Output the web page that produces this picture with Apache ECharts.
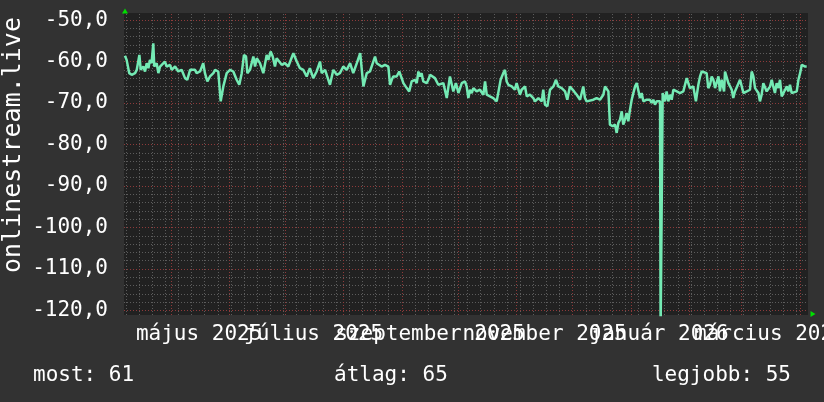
<!DOCTYPE html>
<html><head><meta charset="utf-8">
<script src="https://cdn.jsdelivr.net/npm/echarts@6/dist/echarts.min.js"></script>
<style>html,body{margin:0;padding:0;background:#323232}#c{width:824px;height:402px}</style>
</head><body><div id="c"></div>
<script>
const seriesName = 'onlinestream.live';
const startDay = '2025-04-06';
const spanDays = 364.3;
const firstMonday = '2025-04-07';

// day offsets from startDay, and signal level (dBm)
const dayOffset = [
  0.5,1.4,2.8,4.1,5.9,6.8,8.2,8.9,10.3,11.2,12.1,13.0,13.8,14.7,15.6,16.1,17.4,18.3,19.2,20.1,
  21.8,22.7,24.5,25.4,27.2,28.9,30.7,32.5,33.7,35.2,36.1,37.8,38.7,40.5,42.2,43.1,44.4,45.8,47.6,48.5,
  50.2,51.5,52.9,54.7,56.5,58.2,60.0,61.4,62.7,63.9,65.0,65.7,67.1,68.9,69.8,70.7,72.4,74.2,76.0,76.9,
  78.1,79.2,80.4,81.3,84.0,85.7,87.5,90.2,92.0,93.7,95.5,97.3,99.0,100.8,102.6,104.4,105.3,107.1,109.7,111.5,
  113.3,115.0,116.8,118.6,120.4,122.1,124.0,125.8,127.5,129.3,
  131.0,132.8,133.7,134.6,135.4,137.2,139.0,140.8,141.7,142.6,
  143.4,145.2,146.6,147.9,148.8,150.6,151.9,153.2,155.0,155.9,
  156.8,157.6,158.5,159.4,161.2,162.1,163.0,163.9,165.6,167.4,
  168.3,170.1,171.9,173.6,174.5,175.4,176.8,178.1,179.9,181.6,
  182.5,183.4,184.3,185.2,186.1,187.8,189.6,191.4,192.3,193.2,
  194.9,196.7,198.5,199.4,200.6,202.0,202.9,203.8,204.7,206.5,
  208.2,209.1,210.0,210.9,211.8,212.7,213.6,214.5,216.2,218.0,
  218.9,220.7,222.5,223.3,224.2,225.5,226.9,228.7,230.1,231.3,
  233.1,234.9,236.1,237.5,238.4,239.7,241.1,242.9,244.6,245.5,
  246.4,250.0,251.7,252.6,253.5,254.4,255.3,256.2,258.0,258.8,
  260.3,261.5,262.4,263.3,264.2,
  265.1,265.9,266.8,267.7,268.6,269.5,270.4,271.3,272.2,273.1,
  273.9,274.8,275.7,276.6,277.5,278.4,279.3,280.1,281.0,281.9,
  282.8,283.7,284.6,285.5,285.8,286.4,286.9,288.1,289.0,289.9,
  290.8,291.7,292.6,293.5,294.4,296.1,297.0,297.9,299.7,300.6,
  301.4,303.2,304.6,305.9,306.8,307.7,308.5,310.3,311.2,312.1,
  313.0,313.9,314.8,315.7,316.6,317.4,318.3,319.6,320.1,321.0,
  321.9,322.8,323.7,324.5,325.4,326.3,328.1,329.0,329.9,331.7,
  333.4,334.3,335.2,336.1,337.9,338.7,339.6,340.5,341.4,342.3,
  344.1,345.0,345.8,346.7,347.6,348.5,349.4,350.3,351.2,352.1,
  353.0,353.8,354.7,355.6,356.5,358.3,359.2,360.1,361.0,361.9,
  362.8,363.6
];
const signal = [
  -58.6,-59.6,-62.8,-63.2,-62.8,-62.0,-58.4,-62.0,-61.2,-62.4,-60.4,-61.6,-59.6,-60.4,-55.6,-61.2,-60.4,-62.8,-61.2,-61.6,
  -60.0,-61.2,-60.8,-62.0,-61.2,-62.4,-62.0,-64.0,-64.4,-62.0,-62.4,-62.0,-62.8,-62.4,-60.4,-62.8,-64.8,-63.6,-62.8,-62.0,
  -62.4,-69.6,-66.0,-62.8,-62.0,-62.4,-64.4,-65.6,-62.8,-58.4,-58.8,-62.8,-62.0,-58.8,-61.2,-59.2,-60.4,-62.8,-58.4,-59.6,
  -57.6,-58.8,-61.2,-59.2,-60.8,-60.4,-61.2,-58.0,-60.0,-61.6,-62.0,-63.6,-61.6,-64.0,-62.4,-60.0,-62.8,-62.0,-65.6,-62.0,
  -63.2,-62.8,-61.2,-62.0,-60.4,-62.8,-60.4,-58.0,-66.0,-62.8,
  -62.4,-60.0,-58.8,-60.4,-60.8,-61.2,-60.8,-61.2,-65.6,-64.4,
  -63.6,-63.6,-62.4,-64.0,-65.2,-66.4,-67.2,-64.8,-64.4,-65.2,
  -62.4,-63.6,-62.8,-64.8,-65.2,-64.4,-63.2,-62.8,-64.0,-65.6,
  -66.0,-65.2,-68.8,-63.6,-63.6,-67.2,-65.2,-67.6,-65.2,-64.8,
  -66.0,-68.8,-66.8,-67.6,-66.4,-67.2,-66.8,-68.0,-64.8,-68.0,
  -68.4,-68.8,-69.6,-69.2,-64.4,-62.8,-62.0,-64.8,-65.6,-66.0,
  -66.8,-65.2,-65.6,-68.0,-66.8,-67.2,-66.0,-68.4,-68.0,-68.8,
  -69.6,-68.8,-69.6,-66.8,-70.4,-70.8,-66.8,-66.0,-64.4,-66.0,
  -66.4,-67.2,-69.2,-66.0,-65.6,-67.2,-68.0,-69.2,-66.0,-68.8,
  -69.6,-69.2,-68.8,-68.4,-69.2,-69.6,-68.0,-66.0,-67.2,-75.2,
  -75.6,-75.2,-77.2,-74.8,-74.0,
  -72.0,-75.2,-74.0,-72.4,-74.4,-71.6,-69.2,-69.6,-66.0,-65.2,
  -65.6,-68.8,-67.6,-69.6,-69.2,-69.2,-69.6,-69.2,-70.0,-69.2,
  -70.4,-69.6,-69.2,-69.6,-125,-125,-67.6,-69.6,-67.2,-69.6,
  -68.0,-69.2,-66.8,-66.4,-67.2,-67.6,-68.0,-67.2,-64.0,-64.4,
  -66.4,-66.0,-69.6,-65.6,-63.6,-62.4,-62.8,-62.8,-66.4,-65.6,
  -63.6,-64.4,-66.4,-66.8,-63.6,-67.2,-64.4,-67.2,-62.4,-62.0,
  -65.2,-66.0,-66.8,-68.8,-67.2,-66.8,-64.4,-64.8,-67.6,-67.2,
  -66.8,-62.4,-63.6,-66.4,-67.6,-69.6,-68.0,-65.2,-64.8,-67.2,
  -66.0,-64.4,-66.0,-67.6,-65.2,-66.4,-64.4,-68.4,-68.8,-66.8,
  -66.0,-67.2,-65.6,-67.6,-68.0,-67.2,-64.4,-62.8,-60.8,-60.8,
  -61.2,-61.2
];

const gridMonths = ['2025-05-01','2025-06-01','2025-07-01','2025-08-01','2025-09-01','2025-10-01',
  '2025-11-01','2025-12-01','2026-01-01','2026-02-01','2026-03-01','2026-04-01'];
const labelMonths = ['2025-05-01','2025-07-01','2025-09-01','2025-11-01','2026-01-01','2026-03-01'];
const monthLabels = ['május 2025','július 2025','szeptember 2025','november 2025','január 2026','március 2026'];
const yTicks = [-120,-110,-100,-90,-80,-70,-60,-50];
const yRange = [-121.1, -48.3];
const summaryNames = ['most','átlag','legjobb'];
const summaryValues = [61, 65, 55];

const DAY = 86400000;
const FONT = 'DejaVu Sans Mono';
const t0 = Date.parse(startDay);
const tMax = t0 + spanDays * DAY;
const lineData = dayOffset.map((d, i) => [t0 + d * DAY, signal[i]]);

const minorStyle = {color: '#5c5c5c', type: [1, 2], width: 1};
const majorStyle = {color: '#8e3a3a', type: [1, 2], width: 1};
const gridLines = [];
for (let t = Date.parse(firstMonday); t < tMax; t += 7 * DAY) gridLines.push({xAxis: t, lineStyle: minorStyle});
for (let v = yTicks[0]; v <= yTicks[yTicks.length - 1]; v += 2) gridLines.push({yAxis: v, lineStyle: minorStyle});
gridMonths.forEach(m => gridLines.push({xAxis: Date.parse(m), lineStyle: majorStyle}));
yTicks.forEach(v => gridLines.push({yAxis: v, lineStyle: majorStyle}));

const labelPos = labelMonths.map(m => Date.parse(m) + 15 * DAY);
const labelText = {};
labelPos.forEach((p, i) => { labelText[p] = monthLabels[i]; });

function monthAxis(parity) {
  return {
    type: 'value', min: t0, max: tMax, position: 'bottom', offset: 0,
    axisLine: {show: false}, axisTick: {show: false}, splitLine: {show: false},
    axisLabel: {
      customValues: labelPos.filter((p, i) => i % 2 === parity),
      color: '#ffffff', fontFamily: FONT, fontSize: 21, margin: 9,
      hideOverlap: false, showMinLabel: true, showMaxLabel: true,
      formatter: v => labelText[v] || ''
    }
  };
}

const chart = echarts.init(document.getElementById('c'));
chart.setOption({
  animation: false,
  backgroundColor: '#323232',
  textStyle: {fontFamily: FONT},
  grid: {left: 124, right: 16, top: 13, bottom: 87, show: true, backgroundColor: '#212121', borderWidth: 0,
    containLabel: false, outerBoundsMode: 'none'},
  title: summaryNames.map((n, i) => {
    const o = {text: n + ': ' + summaryValues[i], top: 365, padding: 0,
      textStyle: {color: '#ffffff', fontFamily: FONT, fontSize: 21, fontWeight: 'normal'}};
    if (i === 0) o.left = 33; else if (i === 1) o.left = 334; else o.right = 33;
    return o;
  }),
  graphic: [{type: 'text', x: 13, y: 145, rotation: Math.PI / 2,
    style: {text: seriesName, fill: '#ffffff', font: '25px "DejaVu Sans Mono"', align: 'center', verticalAlign: 'middle',
      textAlign: 'center', textVerticalAlign: 'middle'}}],
  xAxis: [monthAxis(0), monthAxis(1)],
  yAxis: {
    type: 'value', min: yRange[0], max: yRange[1],
    axisLine: {show: false}, axisTick: {show: false}, splitLine: {show: false},
    axisLabel: {
      customValues: yTicks, color: '#ffffff', fontFamily: FONT, fontSize: 21, margin: 16,
      formatter: v => v.toFixed(1).replace('.', ',')
    }
  },
  series: [
    {type: 'line', z: 1, data: [], silent: true,
      markLine: {silent: true, symbol: 'none', label: {show: false}, animation: false, data: gridLines},
      markPoint: {silent: true, label: {show: false}, itemStyle: {color: '#00e000'},
        data: [
          {coord: [tMax, yRange[0]], symbol: 'path://M0,0 L8,5 L0,10 Z', symbolSize: [5, 6], symbolOffset: [5, -1]},
          {coord: [t0, yRange[1]], symbol: 'path://M0,10 L5,0 L10,10 Z', symbolSize: [6, 5], symbolOffset: [1, -2]}
        ]}
    },
    {name: seriesName, type: 'line', z: 5, data: lineData, showSymbol: false, symbol: 'none',
      lineStyle: {color: '#74eab4', width: 2.5}, clip: true}
  ]
});
</script></body></html>
